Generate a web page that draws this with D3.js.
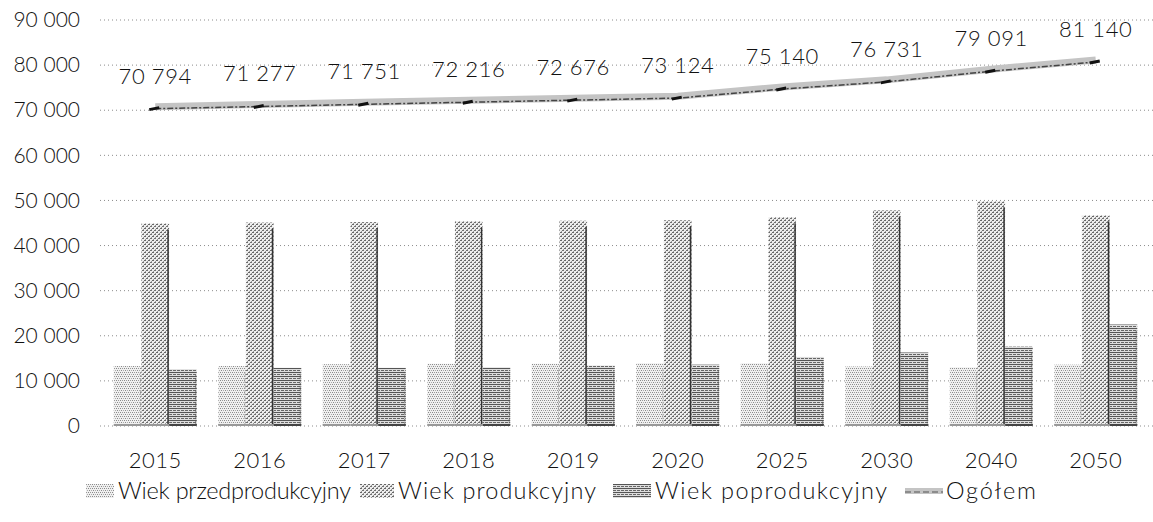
<!DOCTYPE html>
<html>
<head>
<meta charset="utf-8">
<script src="https://cdn.jsdelivr.net/npm/d3@7"></script>
<style>
  html, body { margin: 0; padding: 0; background: #fff; }
  svg { display: block; font-family: Lato, "Open Sans", sans-serif; }
</style>
</head>
<body>
<svg id="chart" width="1153" height="522"></svg>
<script>
// ---- data ----
const categories = ["2015", "2016", "2017", "2018", "2019", "2020", "2025", "2030", "2040", "2050"];
const przedprodukcyjny = [13300, 13300, 13700, 13800, 13800, 13900, 13900, 13200, 13000, 13600];
const produkcyjny      = [44900, 45100, 45200, 45400, 45500, 45600, 46300, 47800, 49800, 46700];
const poprodukcyjny    = [12600, 12900, 12900, 13000, 13400, 13600, 15300, 16300, 17600, 22500];
const ogolem           = [70794, 71277, 71751, 72216, 72676, 73124, 75140, 76731, 79091, 81140];
const yTicks = [0, 10000, 20000, 30000, 40000, 50000, 60000, 70000, 80000, 90000];
const seriesNames = ["Wiek przedprodukcyjny", "Wiek produkcyjny", "Wiek poprodukcyjny", "Ogółem"];

const svg = d3.select("#chart");
const W = 1153;
const FONT = "Lato, sans-serif";

const fmt = v => d3.format(",")(v).replace(/,/g, " ");

// patterns (scanned, dotted look)
const defs = svg.append("defs");
function dotPattern(id, w, h, dots, bg) {
  const p = defs.append("pattern").attr("id", id).attr("patternUnits", "userSpaceOnUse")
    .attr("width", w).attr("height", h);
  p.append("rect").attr("width", w).attr("height", h).attr("fill", bg);
  dots.forEach(d => p.append("rect").attr("x", d[0]).attr("y", d[1]).attr("width", d[2]).attr("height", d[3]).attr("fill", d[4]));
}
dotPattern("pPrzed", 4, 4, [[0, 0, 1, 1, "#888"], [2, 0, 1, 1, "#999"], [1, 2, 1, 1, "#8a8a8a"], [3, 2, 1, 1, "#aaa"]], "#f0f0f0");
dotPattern("pProd", 4, 4, [[0, 0, 2, 1, "#666"], [2, 2, 2, 1, "#707070"], [3, 1, 1, 1, "#999"], [1, 3, 1, 1, "#999"]], "#eeeeee");
dotPattern("pPop", 4, 4, [[0, 0, 4, 1, "#555"], [1, 2, 3, 1, "#666"]], "#dddddd");

const x = d3.scaleBand().domain(categories).range([103, 1148]).paddingInner(0).paddingOuter(0);
const y = d3.scaleLinear().domain([0, 90000]).range([426, 20]);

// gridlines
svg.append("g").selectAll("line").data(yTicks).join("line")
  .attr("x1", 100).attr("x2", W)
  .attr("y1", d => y(d)).attr("y2", d => y(d))
  .attr("stroke", "#8c8c8c").attr("stroke-width", 1).attr("stroke-dasharray", "1,3");

// y axis labels
const yAxis = d3.axisLeft(y).tickValues(yTicks).tickFormat(fmt).tickSize(0).tickPadding(0);
const gy = svg.append("g").attr("transform", "translate(80,0)").call(yAxis);
gy.select(".domain").remove();
gy.selectAll("text").attr("font-size", 21).attr("font-weight", 300).attr("fill", "#111").attr("font-family", FONT);

// x axis labels
const xAxis = d3.axisBottom(x).tickSize(0).tickPadding(0);
const gx = svg.append("g").attr("transform", "translate(0,452)").call(xAxis);
gx.select(".domain").remove();
gx.selectAll("text").attr("font-size", 22).attr("font-weight", 300).attr("fill", "#111").attr("font-family", FONT)
  .attr("letter-spacing", 0.5);

// bars
const CL = 83;
const inner = d3.scaleBand().domain([0, 1, 2]).range([0, CL]);
const barSeries = [
  { vals: przedprodukcyjny, fill: "url(#pPrzed)", edge: "#999" },
  { vals: produkcyjny, fill: "url(#pProd)", edge: "#333" },
  { vals: poprodukcyjny, fill: "url(#pPop)", edge: "#555" }
];
const bx = (d, si) => x(d) + (x.bandwidth() - CL) / 2 + inner(si);
const groups = barSeries.map((s, si) => {
  const g = svg.append("g");
  g.selectAll("rect").data(categories).join("rect")
    .attr("x", d => bx(d, si))
    .attr("width", inner.bandwidth())
    .attr("y", (d, i) => y(s.vals[i]))
    .attr("height", (d, i) => y(0) - y(s.vals[i]))
    .attr("fill", s.fill);
  g.selectAll("line").data(categories).join("line")
    .attr("x1", d => bx(d, si) + inner.bandwidth() - 1)
    .attr("x2", d => bx(d, si) + inner.bandwidth() - 1)
    .attr("y1", (d, i) => y(s.vals[i]) + 6)
    .attr("y2", y(0))
    .attr("stroke", s.edge).attr("stroke-width", si === 1 ? 1.5 : 0.8)
    .attr("stroke-dasharray", si === 1 ? null : "2,1");
  g.selectAll("rect.foot").data(categories).join("rect").attr("class", "foot")
    .attr("x", d => bx(d, si)).attr("width", inner.bandwidth())
    .attr("y", y(0) - 2).attr("height", 2)
    .attr("fill", si === 2 ? "#444" : "#999");
  return g;
});
groups[1].raise();

// total line
const cx = d => x(d) + x.bandwidth() / 2;
const line = d3.line().x((d, i) => cx(categories[i])).y(d => y(d));
svg.append("path").datum(ogolem).attr("d", line)
  .attr("fill", "none").attr("stroke", "#c4c4c4").attr("stroke-width", 7);
svg.append("path").datum(ogolem).attr("d", line)
  .attr("fill", "none").attr("stroke", "#444").attr("stroke-width", 1.5).attr("stroke-dasharray", "6,2,2,2")
  .attr("transform", "translate(0,2)");
svg.append("g").selectAll("path").data(ogolem).join("path")
  .attr("d", (d, i) => `M${cx(categories[i]) - 6},${y(d) + 3} L${cx(categories[i]) + 4},${y(d) + 1}`)
  .attr("stroke", "#111").attr("stroke-width", 3);

// data labels
svg.append("g").selectAll("text").data(ogolem).join("text")
  .attr("x", (d, i) => cx(categories[i]))
  .attr("y", d => y(d) - 23)
  .attr("text-anchor", "middle")
  .attr("font-size", 22).attr("font-weight", 300).attr("fill", "#111").attr("letter-spacing", 0.6)
  .text(d => fmt(d));

// legend
const legend = svg.append("g");
const items = [
  { name: seriesNames[0], sx: 86, sw: 28, fill: "url(#pPrzed)", tx: 118, tw: 233 },
  { name: seriesNames[1], sx: 360, sw: 34, fill: "url(#pProd)", tx: 398, tw: 198 },
  { name: seriesNames[2], sx: 613, sw: 38, fill: "url(#pPop)", tx: 655, tw: 232 },
  { name: seriesNames[3], sx: 905, sw: 38, line: true, tx: 946, tw: 90 }
];
items.forEach(it => {
  if (it.line) {
    legend.append("line").attr("x1", it.sx).attr("x2", it.sx + it.sw).attr("y1", 491).attr("y2", 491)
      .attr("stroke", "#c4c4c4").attr("stroke-width", 6);
    legend.append("line").attr("x1", it.sx).attr("x2", it.sx + it.sw).attr("y1", 492).attr("y2", 492)
      .attr("stroke", "#555").attr("stroke-width", 1.2).attr("stroke-dasharray", "6,3");
  } else {
    legend.append("rect").attr("x", it.sx).attr("y", 484).attr("width", it.sw).attr("height", 14).attr("fill", it.fill);
  }
  legend.append("text").attr("x", it.tx).attr("y", 499).attr("font-size", 23.5).attr("font-weight", 300)
    .attr("fill", "#111").attr("textLength", it.tw).attr("lengthAdjust", "spacing").text(it.name);
});
</script>
</body>
</html>
